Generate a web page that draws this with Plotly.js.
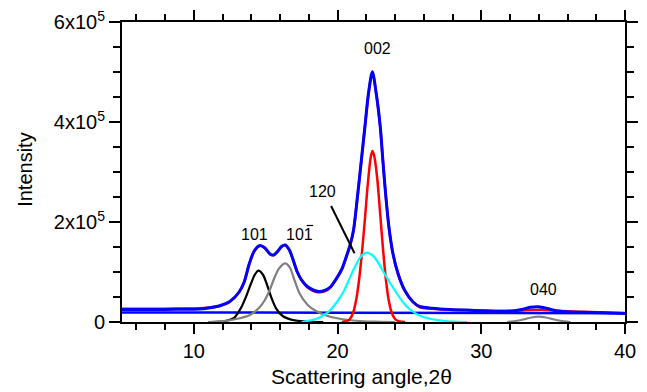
<!DOCTYPE html>
<html>
<head>
<meta charset="utf-8">
<script src="https://cdn.plot.ly/plotly-3.0.1.min.js"></script>
<style>html,body{margin:0;padding:0;background:#fff;}#chart{width:647px;height:392px;}</style>
</head>
<body>
<div id="chart"></div>
<script>
// Measured envelope (blue)
const blueX = [5, 6.5, 8, 9.5, 10.4, 11.0, 11.8, 12.5, 13.15, 13.5, 13.85, 14.2, 14.6, 14.95, 15.3, 15.55, 15.85, 16.1, 16.35, 16.65, 16.9, 17.2, 17.5, 17.9, 18.3, 18.7, 19.1, 19.5, 19.9, 20.3, 20.6, 20.85, 21.1, 21.4, 21.65, 21.9, 22.15, 22.42, 22.69, 22.97, 23.15, 23.34, 23.57, 23.85, 24.2, 24.66, 25.24, 25.71, 26.6, 27.8, 29.0, 30.1, 31.3, 32.3, 32.8, 33.4, 34.0, 34.6, 35.2, 35.9, 37.0, 38.5, 40];
const blueY = [25000, 25000, 25200, 25600, 26000, 28000, 32500, 41000, 60000, 80000, 116000, 142000, 153000, 148000, 136000, 134000, 142000, 151000, 154000, 144000, 125000, 100000, 84000, 71000, 64000, 61000, 63000, 70000, 86000, 106000, 130000, 152000, 182000, 255000, 322000, 390000, 457000, 500600, 457000, 390600, 324000, 257400, 190600, 137400, 97400, 64000, 40600, 31000, 27500, 25000, 23800, 22500, 21500, 22500, 25000, 29400, 30600, 27000, 22500, 20500, 19500, 18500, 17200];

// Fitted sum (red, mostly hidden under blue)
const fitX = [5, 7, 9, 10.5, 11.8, 12.5, 13.15, 13.5, 13.85, 14.2, 14.6, 14.95, 15.3, 15.55, 15.85, 16.1, 16.35, 16.65, 16.9, 17.2, 17.5, 17.9, 18.3, 18.7, 19.1, 19.5, 19.9, 20.3, 20.6, 20.85, 21.1, 21.4, 21.65, 21.9, 22.15, 22.42, 22.69, 22.97, 23.15, 23.34, 23.57, 23.85, 24.2, 24.66, 25.24, 25.71, 26.6, 27.8, 29, 30.1, 31.3, 32.5, 33.5, 34.2, 35, 36, 37.5, 39, 40];
const fitY = [26500, 26500, 27000, 27500, 32000, 40500, 59500, 79500, 115500, 141500, 152500, 147500, 135500, 133500, 141500, 150500, 153500, 143500, 124500, 99500, 83000, 69500, 62500, 59500, 61500, 69000, 85000, 105500, 129500, 151500, 181500, 254500, 321500, 389500, 456500, 500000, 456500, 390000, 323500, 257000, 190000, 137000, 97000, 63500, 40000, 30000, 26500, 24500, 23500, 22500, 22000, 22500, 24000, 24500, 23000, 21500, 20000, 18700, 18000];

// Linear background (blue straight line)
const baseX = [5, 20, 40];
const baseY = [19200, 18500, 17300];

// Component peaks
const p101X = [11.0, 11.8, 12.4, 12.8, 13.05, 13.35, 13.63, 13.95, 14.25, 14.5, 14.8, 15.05, 15.37, 15.72, 16.18, 16.88, 17.8, 19.0];
const p101Y = [0, 1000, 3500, 8000, 17400, 32000, 50600, 75000, 95000, 102600, 95000, 78000, 50600, 27400, 12000, 4000, 1000, 0];

const p10bX = [11.0, 11.8, 12.5, 13.2, 13.86, 14.21, 14.56, 14.9, 15.25, 15.6, 15.95, 16.37, 16.7, 16.95, 17.35, 17.92, 18.5, 19.43, 20.36, 21.3, 22.5, 24.0];
const p10bY = [0, 1500, 3500, 7500, 13500, 20000, 29000, 42000, 62000, 88000, 108000, 117400, 108000, 88000, 57400, 34000, 22000, 11000, 5500, 2500, 800, 0];

const p120X = [17.5, 18.5, 19.0, 19.5, 20.0, 20.4, 20.8, 21.2, 21.6, 22.0, 22.4, 22.8, 23.2, 23.7, 24.1, 24.6, 25.0, 25.7, 26.5, 27.5, 29.0];
const p120Y = [0, 6000, 13000, 24000, 42000, 60000, 85000, 110000, 130000, 138600, 134000, 120000, 100000, 76000, 58000, 38000, 26000, 13000, 6000, 2000, 0];

const p002X = [20.3, 20.8, 21.1, 21.3, 21.5, 21.7, 21.9, 22.1, 22.3, 22.42, 22.55, 22.75, 22.95, 23.15, 23.35, 23.55, 23.75, 24.0, 24.3, 24.7];
const p002Y = [0, 4000, 20000, 45000, 85000, 140000, 205000, 275000, 328000, 342000, 332000, 290000, 222000, 150000, 88000, 45000, 20000, 6000, 1000, 0];

const p040X = [31.8, 32.5, 33.0, 33.5, 34.0, 34.5, 35.0, 35.5, 36.2];
const p040Y = [0, 2500, 5500, 9000, 10600, 9000, 5500, 2500, 0];

// Axis ticks
const yTickVals = [0, 200000, 400000, 600000];
const yTickText = ['0', '2x10<sup>5</sup>', '4x10<sup>5</sup>', '6x10<sup>5</sup>'];

// Peak labels
const peakLabels = ['002', '101', '101', '120', '040'];
const peakLabelX = [22.77, 14.21, 17.37, 18.97, 34.33];
const peakLabelY = [548000, 176000, 176000, 260600, 64600];

function tr(x, y, color, width) {
  return {x: x, y: y, type: 'scatter', mode: 'lines',
    line: {color: color, width: width, shape: 'spline', smoothing: 0.8},
    hoverinfo: 'skip', showlegend: false};
}

const data = [
  tr(baseX, baseY, '#0000ff', 2.5),
  tr(p101X, p101Y, '#000000', 2.2),
  tr(p10bX, p10bY, '#808080', 2.2),
  tr(p040X, p040Y, '#808080', 2.2),
  tr(p002X, p002Y, '#ff0000', 2.5),
  tr(p120X, p120Y, '#00ffff', 2.2),
  tr(fitX, fitY, '#ff0000', 2.5),
  tr(blueX, blueY, '#0000ff', 3)
];

const font = 'Liberation Sans, Arial, sans-serif';
const annotations = peakLabels.map((t, i) => ({
  x: peakLabelX[i], y: peakLabelY[i], xref: 'x', yref: 'y', text: t,
  showarrow: false, xanchor: 'center', yanchor: 'middle',
  font: {family: font, size: 16, color: '#000'}
}));
annotations.push({
  xref: 'paper', yref: 'paper', x: 0.477, y: -0.183, xanchor: 'center', yanchor: 'middle',
  text: 'Scattering angle,2\u03b8', showarrow: false,
  font: {family: font, size: 21, color: '#000'}
});
annotations.push({
  xref: 'paper', yref: 'paper', x: -0.193, y: 0.507, xanchor: 'center', yanchor: 'middle',
  text: 'Intensity', textangle: -90, showarrow: false,
  font: {family: font, size: 20, color: '#000'}
});

const layout = {
  width: 647, height: 392,
  margin: {l: 122, r: 22, t: 22, b: 70},
  paper_bgcolor: '#fff', plot_bgcolor: '#fff',
  font: {family: font, color: '#000', size: 20},
  showlegend: false,
  xaxis: {
    range: [5, 40], tickmode: 'linear', tick0: 0, dtick: 10,
    ticks: 'outside', ticklen: 10, tickwidth: 2, tickcolor: '#000',
    showline: true, linewidth: 2, linecolor: '#000', mirror: 'allticks',
    showgrid: false, zeroline: false,
    tickfont: {family: font, size: 20, color: '#000'},
    minor: {tickmode: 'linear', tick0: 0, dtick: 2, ticks: 'outside', ticklen: 6, tickwidth: 2, tickcolor: '#000', showgrid: false}
  },
  yaxis: {
    range: [0, 600000], tickmode: 'array', tickvals: yTickVals, ticktext: yTickText,
    ticks: 'outside', ticklen: 11, tickwidth: 2, tickcolor: '#000',
    showline: true, linewidth: 2, linecolor: '#000', mirror: 'allticks',
    showgrid: false, zeroline: false,
    tickfont: {family: font, size: 20, color: '#000'},
    minor: {tickmode: 'linear', tick0: 0, dtick: 50000, ticks: 'outside', ticklen: 7, tickwidth: 2, tickcolor: '#000', showgrid: false}
  },
  annotations: annotations,
  shapes: [
    {type: 'line', xref: 'x', yref: 'y', x0: 19.55, y0: 232000, x1: 21.18, y1: 137400,
      line: {color: '#000', width: 2}},
    {type: 'line', xref: 'x', yref: 'y', x0: 17.85, y0: 193000, x1: 18.3, y1: 193000,
      line: {color: '#000', width: 1.2}}
  ]
};

Plotly.newPlot('chart', data, layout, {displayModeBar: false, staticPlot: true});
</script>
</body>
</html>
